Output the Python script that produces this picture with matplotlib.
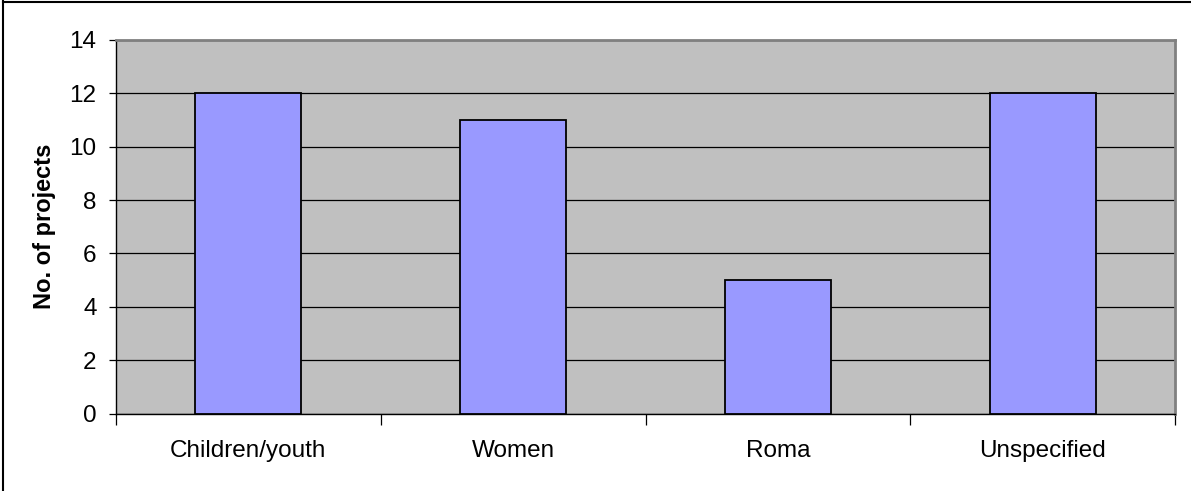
import matplotlib
matplotlib.use("Agg")
import matplotlib.pyplot as plt
import numpy as np

categories = ["Children/youth", "Women", "Roma", "Unspecified"]
values = [12, 11, 5, 12]
y_ticks = [0, 2, 4, 6, 8, 10, 12, 14]
y_label = "No. of projects"

plt.rcParams['font.family'] = ['Liberation Sans', 'DejaVu Sans']

fig = plt.figure(figsize=(11.91, 4.91), dpi=100)
ax = fig.add_axes([116/1191, 1 - 413.5/491, (1175 - 116)/1191, (413.5 - 40)/491])
ax.set_facecolor("#C0C0C0")

x = np.arange(len(categories))
ax.bar(x, values, width=0.4, color="#9999FF", edgecolor="black", linewidth=1.3, zorder=3)

ax.set_xlim(-0.5, len(categories) - 0.5)
ax.set_ylim(0, 14)
ax.set_yticks(y_ticks)
ax.set_yticklabels([str(t) for t in y_ticks], fontsize=17.5)
ax.yaxis.grid(True, color="black", linewidth=0.9, zorder=1)
ax.set_axisbelow(True)
ax.tick_params(axis="y", direction="out", length=5, width=0.9, pad=9)

ax.set_xticks(x)
ax.set_xticklabels(categories, fontsize=17.5)
ax.tick_params(axis="x", which="major", length=0, pad=19)
ax.set_xticks(np.arange(-0.5, len(categories)), minor=True)
ax.tick_params(axis="x", which="minor", direction="out", length=8, width=0.9)

ax.set_ylabel(y_label, fontsize=17, fontweight="bold", labelpad=10)

for s in ["left", "bottom"]:
    ax.spines[s].set_color("black")
    ax.spines[s].set_linewidth(1.0)
for s in ["top", "right"]:
    ax.spines[s].set_color("#808080")
    ax.spines[s].set_linewidth(2.0)

# outer chart border (left and top visible)
fig.add_artist(plt.Line2D([3/1191, 3/1191], [0, 1 - 1/491], color="black", linewidth=1.5, transform=fig.transFigure))
fig.add_artist(plt.Line2D([3/1191, 1], [1 - 1.5/491, 1 - 1.5/491], color="black", linewidth=1.5, transform=fig.transFigure))

fig.savefig("out.png", dpi=100, facecolor="white")
